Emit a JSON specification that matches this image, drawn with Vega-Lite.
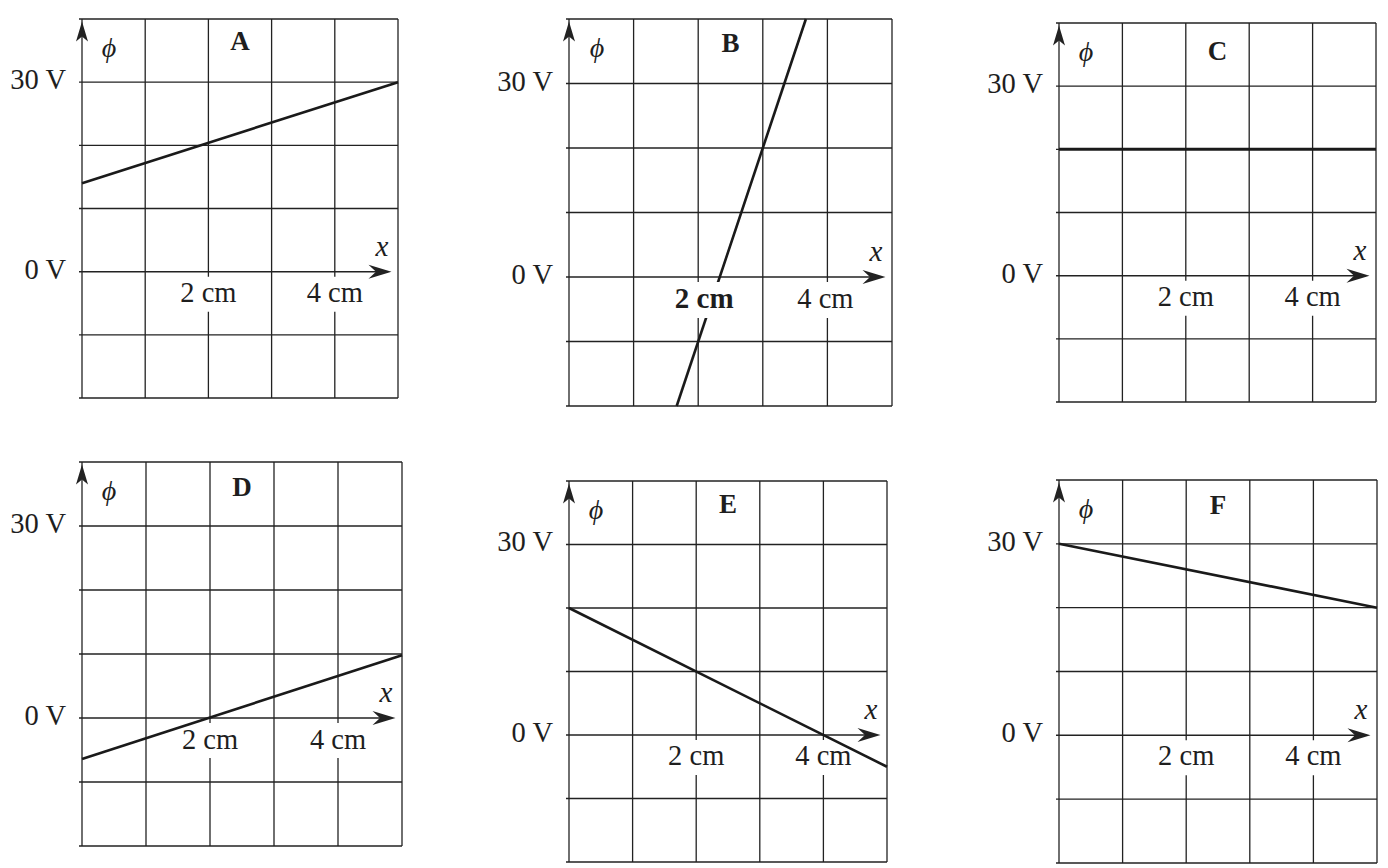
{
"$schema":"https://vega.github.io/schema/vega-lite/v6.json",
"background":"white",
"padding":{"left":9,"top":13,"right":0,"bottom":0},
"config":{"view":{"stroke":null},"axis":{"disable":true},"text":{"font":"Liberation Serif","fill":"#1e1e1e"}},
"datasets":{
"lines":[{"panel":"A","x":0,"phi":14},{"panel":"A","x":5,"phi":30},{"panel":"B","x":1.667,"phi":-20},{"panel":"B","x":3.667,"phi":40},{"panel":"C","x":0,"phi":20},{"panel":"C","x":5,"phi":20},{"panel":"D","x":0,"phi":-6.4},{"panel":"D","x":5,"phi":9.8},{"panel":"E","x":0,"phi":20},{"panel":"E","x":5,"phi":-5},{"panel":"F","x":0,"phi":30},{"panel":"F","x":5,"phi":20}],
"vgrid":[{"x":0},{"x":1},{"x":2},{"x":3},{"x":4},{"x":5}],
"hgrid":[{"y":-20},{"y":-10},{"y":10},{"y":20},{"y":30},{"y":40}],
"ylabels":[{"y":30,"label":"30 V"},{"y":0,"label":"0 V"}],
"xlabels":[{"x":2,"label":"2 cm"},{"x":4,"label":"4 cm"}]
},
"columns":3,"align":"each","bounds":"flush","spacing":{"row":56,"column":167},
"concat":[
{"width":316,"height":379,"layer":[
{"data":{"name":"vgrid"},"mark":{"type":"rule","stroke":"#222","strokeWidth":1.3},"encoding":{"x":{"field":"x","type":"quantitative","scale":{"domain":[0,5],"nice":false,"zero":false},"axis":null},"y":{"datum":-20},"y2":{"datum":40}}},
{"data":{"name":"hgrid"},"mark":{"type":"rule","stroke":"#222","strokeWidth":1.3,"xOffset":-3},"encoding":{"x":{"datum":0},"x2":{"datum":5},"y":{"field":"y","type":"quantitative","scale":{"domain":[-20,40],"nice":false,"zero":false},"axis":null}}},
{"data":{"values":[{}]},"mark":{"type":"rule","stroke":"#222","strokeWidth":1.5,"xOffset":-3,"x2Offset":-10},"encoding":{"x":{"datum":0},"x2":{"datum":5},"y":{"datum":0}}},
{"data":{"values":[{}]},"mark":{"type":"point","shape":"M0,0L-2.3,-0.7L-1.55,0L-2.3,0.7Z","size":400,"filled":true,"fill":"#222","strokeWidth":0,"opacity":1,"xOffset":-6.5},"encoding":{"x":{"datum":5},"y":{"datum":0}}},
{"data":{"values":[{}]},"mark":{"type":"point","shape":"M0,0L0.6,2.0L0,1.5L-0.6,2.0Z","size":400,"filled":true,"fill":"#222","strokeWidth":0,"opacity":1,"yOffset":2.5},"encoding":{"x":{"datum":0},"y":{"datum":40}}},
{"data":{"name":"lines"},"transform":[{"filter":"datum.panel==='A'"}],"mark":{"type":"line","stroke":"#1a1a1a","strokeWidth":2.6},"encoding":{"x":{"field":"x","type":"quantitative","scale":{"domain":[0,5],"nice":false,"zero":false},"axis":null},"y":{"field":"phi","type":"quantitative","scale":{"domain":[-20,40],"nice":false,"zero":false},"axis":null}}},
{"data":{"name":"xlabels"},"mark":{"type":"rect","fill":"white","xOffset":-31,"x2Offset":31,"yOffset":5,"y2Offset":40},"encoding":{"x":{"field":"x","type":"quantitative","scale":{"domain":[0,5],"nice":false,"zero":false},"axis":null},"x2":{"field":"x"},"y":{"datum":0},"y2":{"datum":0}}},
{"data":{"name":"xlabels"},"mark":{"type":"text","fontSize":28.5,"align":"center","baseline":"alphabetic","dy":30},"encoding":{"x":{"field":"x","type":"quantitative","scale":{"domain":[0,5],"nice":false,"zero":false},"axis":null},"y":{"datum":0},"text":{"field":"label"}}},
{"data":{"name":"ylabels"},"mark":{"type":"text","fontSize":28.5,"align":"right","baseline":"alphabetic","dx":-16,"dy":7},"encoding":{"x":{"datum":0},"y":{"field":"y","type":"quantitative","scale":{"domain":[-20,40],"nice":false,"zero":false},"axis":null},"text":{"field":"label"}}},
{"data":{"values":[{}]},"mark":{"type":"text","text":"ϕ","fontSize":28,"fontStyle":"italic","align":"center","baseline":"alphabetic","dx":27,"dy":38},"encoding":{"x":{"datum":0},"y":{"datum":40}}},
{"data":{"values":[{}]},"mark":{"type":"text","text":"A","fontSize":27,"fontWeight":"bold","align":"center","baseline":"alphabetic","dy":31},"encoding":{"x":{"datum":2.5},"y":{"datum":40}}},
{"data":{"values":[{}]},"mark":{"type":"text","text":"x","fontSize":29,"fontStyle":"italic","align":"center","baseline":"alphabetic","dx":-16,"dy":-16},"encoding":{"x":{"datum":5},"y":{"datum":0}}}
]},
{"width":323,"height":387,"layer":[
{"data":{"name":"vgrid"},"mark":{"type":"rule","stroke":"#222","strokeWidth":1.3},"encoding":{"x":{"field":"x","type":"quantitative","scale":{"domain":[0,5],"nice":false,"zero":false},"axis":null},"y":{"datum":-20},"y2":{"datum":40}}},
{"data":{"name":"hgrid"},"mark":{"type":"rule","stroke":"#222","strokeWidth":1.3,"xOffset":-3},"encoding":{"x":{"datum":0},"x2":{"datum":5},"y":{"field":"y","type":"quantitative","scale":{"domain":[-20,40],"nice":false,"zero":false},"axis":null}}},
{"data":{"values":[{}]},"mark":{"type":"rule","stroke":"#222","strokeWidth":1.5,"xOffset":-3,"x2Offset":-10},"encoding":{"x":{"datum":0},"x2":{"datum":5},"y":{"datum":0}}},
{"data":{"values":[{}]},"mark":{"type":"point","shape":"M0,0L-2.3,-0.7L-1.55,0L-2.3,0.7Z","size":400,"filled":true,"fill":"#222","strokeWidth":0,"opacity":1,"xOffset":-6.5},"encoding":{"x":{"datum":5},"y":{"datum":0}}},
{"data":{"values":[{}]},"mark":{"type":"point","shape":"M0,0L0.6,2.0L0,1.5L-0.6,2.0Z","size":400,"filled":true,"fill":"#222","strokeWidth":0,"opacity":1,"yOffset":2.5},"encoding":{"x":{"datum":0},"y":{"datum":40}}},
{"data":{"name":"lines"},"transform":[{"filter":"datum.panel==='B'"}],"mark":{"type":"line","stroke":"#1a1a1a","strokeWidth":2.6},"encoding":{"x":{"field":"x","type":"quantitative","scale":{"domain":[0,5],"nice":false,"zero":false},"axis":null},"y":{"field":"phi","type":"quantitative","scale":{"domain":[-20,40],"nice":false,"zero":false},"axis":null}}},
{"data":{"name":"xlabels"},"mark":{"type":"rect","fill":"white","xOffset":-31,"x2Offset":31,"yOffset":5,"y2Offset":41},"encoding":{"x":{"field":"x","type":"quantitative","scale":{"domain":[0,5],"nice":false,"zero":false},"axis":null},"x2":{"field":"x"},"y":{"datum":0},"y2":{"datum":0}}},
{"data":{"name":"xlabels"},"transform":[{"filter":"datum.x===4"}],"mark":{"type":"text","fontSize":28.5,"align":"center","baseline":"alphabetic","dx":-2,"dy":31},"encoding":{"x":{"field":"x","type":"quantitative","scale":{"domain":[0,5],"nice":false,"zero":false},"axis":null},"y":{"datum":0},"text":{"field":"label"}}},
{"data":{"name":"xlabels"},"transform":[{"filter":"datum.x===2"}],"mark":{"type":"text","fontSize":29,"fontWeight":"bold","align":"center","baseline":"alphabetic","dx":6,"dy":31},"encoding":{"x":{"field":"x","type":"quantitative","scale":{"domain":[0,5],"nice":false,"zero":false},"axis":null},"y":{"datum":0},"text":{"field":"label"}}},
{"data":{"name":"ylabels"},"mark":{"type":"text","fontSize":28.5,"align":"right","baseline":"alphabetic","dx":-16,"dy":7},"encoding":{"x":{"datum":0},"y":{"field":"y","type":"quantitative","scale":{"domain":[-20,40],"nice":false,"zero":false},"axis":null},"text":{"field":"label"}}},
{"data":{"values":[{}]},"mark":{"type":"text","text":"ϕ","fontSize":28,"fontStyle":"italic","align":"center","baseline":"alphabetic","dx":28,"dy":38},"encoding":{"x":{"datum":0},"y":{"datum":40}}},
{"data":{"values":[{}]},"mark":{"type":"text","text":"B","fontSize":27,"fontWeight":"bold","align":"center","baseline":"alphabetic","dy":33},"encoding":{"x":{"datum":2.5},"y":{"datum":40}}},
{"data":{"values":[{}]},"mark":{"type":"text","text":"x","fontSize":29,"fontStyle":"italic","align":"center","baseline":"alphabetic","dx":-16,"dy":-16},"encoding":{"x":{"datum":5},"y":{"datum":0}}}
]},
{"width":317,"height":383,"layer":[
{"data":{"name":"vgrid"},"mark":{"type":"rule","stroke":"#222","strokeWidth":1.3},"encoding":{"x":{"field":"x","type":"quantitative","scale":{"domain":[0,5],"nice":false,"zero":false},"axis":null},"y":{"datum":-20},"y2":{"datum":40}}},
{"data":{"name":"hgrid"},"mark":{"type":"rule","stroke":"#222","strokeWidth":1.3,"xOffset":-3},"encoding":{"x":{"datum":0},"x2":{"datum":5},"y":{"field":"y","type":"quantitative","scale":{"domain":[-20,40.63],"nice":false,"zero":false},"axis":null}}},
{"data":{"values":[{}]},"mark":{"type":"rule","stroke":"#222","strokeWidth":1.5,"xOffset":-3,"x2Offset":-10},"encoding":{"x":{"datum":0},"x2":{"datum":5},"y":{"datum":0}}},
{"data":{"values":[{}]},"mark":{"type":"point","shape":"M0,0L-2.3,-0.7L-1.55,0L-2.3,0.7Z","size":400,"filled":true,"fill":"#222","strokeWidth":0,"opacity":1,"xOffset":-6.5},"encoding":{"x":{"datum":5},"y":{"datum":0}}},
{"data":{"values":[{}]},"mark":{"type":"point","shape":"M0,0L0.6,2.0L0,1.5L-0.6,2.0Z","size":400,"filled":true,"fill":"#222","strokeWidth":0,"opacity":1,"yOffset":2.5},"encoding":{"x":{"datum":0},"y":{"datum":40}}},
{"data":{"name":"lines"},"transform":[{"filter":"datum.panel==='C'"}],"mark":{"type":"line","stroke":"#1a1a1a","strokeWidth":3},"encoding":{"x":{"field":"x","type":"quantitative","scale":{"domain":[0,5],"nice":false,"zero":false},"axis":null},"y":{"field":"phi","type":"quantitative","scale":{"domain":[-20,40.63],"nice":false,"zero":false},"axis":null}}},
{"data":{"name":"xlabels"},"mark":{"type":"rect","fill":"white","xOffset":-31,"x2Offset":31,"yOffset":5,"y2Offset":40},"encoding":{"x":{"field":"x","type":"quantitative","scale":{"domain":[0,5],"nice":false,"zero":false},"axis":null},"x2":{"field":"x"},"y":{"datum":0},"y2":{"datum":0}}},
{"data":{"name":"xlabels"},"mark":{"type":"text","fontSize":28.5,"align":"center","baseline":"alphabetic","dy":30},"encoding":{"x":{"field":"x","type":"quantitative","scale":{"domain":[0,5],"nice":false,"zero":false},"axis":null},"y":{"datum":0},"text":{"field":"label"}}},
{"data":{"name":"ylabels"},"mark":{"type":"text","fontSize":28.5,"align":"right","baseline":"alphabetic","dx":-16,"dy":7},"encoding":{"x":{"datum":0},"y":{"field":"y","type":"quantitative","scale":{"domain":[-20,40.63],"nice":false,"zero":false},"axis":null},"text":{"field":"label"}}},
{"data":{"values":[{}]},"mark":{"type":"text","text":"ϕ","fontSize":28,"fontStyle":"italic","align":"center","baseline":"alphabetic","dx":27,"dy":38},"encoding":{"x":{"datum":0},"y":{"datum":40}}},
{"data":{"values":[{}]},"mark":{"type":"text","text":"C","fontSize":27,"fontWeight":"bold","align":"center","baseline":"alphabetic","dy":37},"encoding":{"x":{"datum":2.5},"y":{"datum":40}}},
{"data":{"values":[{}]},"mark":{"type":"text","text":"x","fontSize":29,"fontStyle":"italic","align":"center","baseline":"alphabetic","dx":-16,"dy":-16},"encoding":{"x":{"datum":5},"y":{"datum":0}}}
]},
{"width":320,"height":384,"layer":[
{"data":{"name":"vgrid"},"mark":{"type":"rule","stroke":"#222","strokeWidth":1.3},"encoding":{"x":{"field":"x","type":"quantitative","scale":{"domain":[0,5],"nice":false,"zero":false},"axis":null},"y":{"datum":-20},"y2":{"datum":40}}},
{"data":{"name":"hgrid"},"mark":{"type":"rule","stroke":"#222","strokeWidth":1.3,"xOffset":-3},"encoding":{"x":{"datum":0},"x2":{"datum":5},"y":{"field":"y","type":"quantitative","scale":{"domain":[-20,40],"nice":false,"zero":false},"axis":null}}},
{"data":{"values":[{}]},"mark":{"type":"rule","stroke":"#222","strokeWidth":1.5,"xOffset":-3,"x2Offset":-10},"encoding":{"x":{"datum":0},"x2":{"datum":5},"y":{"datum":0}}},
{"data":{"values":[{}]},"mark":{"type":"point","shape":"M0,0L-2.3,-0.7L-1.55,0L-2.3,0.7Z","size":400,"filled":true,"fill":"#222","strokeWidth":0,"opacity":1,"xOffset":-6.5},"encoding":{"x":{"datum":5},"y":{"datum":0}}},
{"data":{"values":[{}]},"mark":{"type":"point","shape":"M0,0L0.6,2.0L0,1.5L-0.6,2.0Z","size":400,"filled":true,"fill":"#222","strokeWidth":0,"opacity":1,"yOffset":2.5},"encoding":{"x":{"datum":0},"y":{"datum":40}}},
{"data":{"name":"xlabels"},"mark":{"type":"rect","fill":"white","xOffset":-31,"x2Offset":31,"yOffset":5,"y2Offset":40},"encoding":{"x":{"field":"x","type":"quantitative","scale":{"domain":[0,5],"nice":false,"zero":false},"axis":null},"x2":{"field":"x"},"y":{"datum":0},"y2":{"datum":0}}},
{"data":{"name":"lines"},"transform":[{"filter":"datum.panel==='D'"}],"mark":{"type":"line","stroke":"#1a1a1a","strokeWidth":2.6},"encoding":{"x":{"field":"x","type":"quantitative","scale":{"domain":[0,5],"nice":false,"zero":false},"axis":null},"y":{"field":"phi","type":"quantitative","scale":{"domain":[-20,40],"nice":false,"zero":false},"axis":null}}},
{"data":{"name":"xlabels"},"mark":{"type":"text","fontSize":28.5,"align":"center","baseline":"alphabetic","dy":31},"encoding":{"x":{"field":"x","type":"quantitative","scale":{"domain":[0,5],"nice":false,"zero":false},"axis":null},"y":{"datum":0},"text":{"field":"label"}}},
{"data":{"name":"ylabels"},"mark":{"type":"text","fontSize":28.5,"align":"right","baseline":"alphabetic","dx":-16,"dy":7},"encoding":{"x":{"datum":0},"y":{"field":"y","type":"quantitative","scale":{"domain":[-20,40],"nice":false,"zero":false},"axis":null},"text":{"field":"label"}}},
{"data":{"values":[{}]},"mark":{"type":"text","text":"ϕ","fontSize":28,"fontStyle":"italic","align":"center","baseline":"alphabetic","dx":27,"dy":38},"encoding":{"x":{"datum":0},"y":{"datum":40}}},
{"data":{"values":[{}]},"mark":{"type":"text","text":"D","fontSize":27,"fontWeight":"bold","align":"center","baseline":"alphabetic","dy":34},"encoding":{"x":{"datum":2.5},"y":{"datum":40}}},
{"data":{"values":[{}]},"mark":{"type":"text","text":"x","fontSize":29,"fontStyle":"italic","align":"center","baseline":"alphabetic","dx":-16,"dy":-16},"encoding":{"x":{"datum":5},"y":{"datum":0}}}
]},
{"width":318,"height":400,"layer":[
{"data":{"name":"vgrid"},"mark":{"type":"rule","stroke":"#222","strokeWidth":1.3},"encoding":{"x":{"field":"x","type":"quantitative","scale":{"domain":[0,5],"nice":false,"zero":false},"axis":null},"y":{"datum":-20},"y2":{"datum":40}}},
{"data":{"name":"hgrid"},"mark":{"type":"rule","stroke":"#222","strokeWidth":1.3,"xOffset":-3},"encoding":{"x":{"datum":0},"x2":{"datum":5},"y":{"field":"y","type":"quantitative","scale":{"domain":[-20,42.99],"nice":false,"zero":false},"axis":null}}},
{"data":{"values":[{}]},"mark":{"type":"rule","stroke":"#222","strokeWidth":1.5,"xOffset":-3,"x2Offset":-10},"encoding":{"x":{"datum":0},"x2":{"datum":5},"y":{"datum":0}}},
{"data":{"values":[{}]},"mark":{"type":"point","shape":"M0,0L-2.3,-0.7L-1.55,0L-2.3,0.7Z","size":400,"filled":true,"fill":"#222","strokeWidth":0,"opacity":1,"xOffset":-6.5},"encoding":{"x":{"datum":5},"y":{"datum":0}}},
{"data":{"values":[{}]},"mark":{"type":"point","shape":"M0,0L0.6,2.0L0,1.5L-0.6,2.0Z","size":400,"filled":true,"fill":"#222","strokeWidth":0,"opacity":1,"yOffset":2.5},"encoding":{"x":{"datum":0},"y":{"datum":40}}},
{"data":{"name":"xlabels"},"mark":{"type":"rect","fill":"white","xOffset":-31,"x2Offset":31,"yOffset":5,"y2Offset":40},"encoding":{"x":{"field":"x","type":"quantitative","scale":{"domain":[0,5],"nice":false,"zero":false},"axis":null},"x2":{"field":"x"},"y":{"datum":0},"y2":{"datum":0}}},
{"data":{"name":"lines"},"transform":[{"filter":"datum.panel==='E'"}],"mark":{"type":"line","stroke":"#1a1a1a","strokeWidth":2.6},"encoding":{"x":{"field":"x","type":"quantitative","scale":{"domain":[0,5],"nice":false,"zero":false},"axis":null},"y":{"field":"phi","type":"quantitative","scale":{"domain":[-20,42.99],"nice":false,"zero":false},"axis":null}}},
{"data":{"name":"xlabels"},"mark":{"type":"text","fontSize":28.5,"align":"center","baseline":"alphabetic","dy":30},"encoding":{"x":{"field":"x","type":"quantitative","scale":{"domain":[0,5],"nice":false,"zero":false},"axis":null},"y":{"datum":0},"text":{"field":"label"}}},
{"data":{"name":"ylabels"},"mark":{"type":"text","fontSize":28.5,"align":"right","baseline":"alphabetic","dx":-16,"dy":7},"encoding":{"x":{"datum":0},"y":{"field":"y","type":"quantitative","scale":{"domain":[-20,42.99],"nice":false,"zero":false},"axis":null},"text":{"field":"label"}}},
{"data":{"values":[{}]},"mark":{"type":"text","text":"ϕ","fontSize":28,"fontStyle":"italic","align":"center","baseline":"alphabetic","dx":27,"dy":38},"encoding":{"x":{"datum":0},"y":{"datum":40}}},
{"data":{"values":[{}]},"mark":{"type":"text","text":"E","fontSize":27,"fontWeight":"bold","align":"center","baseline":"alphabetic","dy":32},"encoding":{"x":{"datum":2.5},"y":{"datum":40}}},
{"data":{"values":[{}]},"mark":{"type":"text","text":"x","fontSize":29,"fontStyle":"italic","align":"center","baseline":"alphabetic","dx":-16,"dy":-16},"encoding":{"x":{"datum":5},"y":{"datum":0}}}
]},
{"width":318,"height":401,"layer":[
{"data":{"name":"vgrid"},"mark":{"type":"rule","stroke":"#222","strokeWidth":1.3},"encoding":{"x":{"field":"x","type":"quantitative","scale":{"domain":[0,5],"nice":false,"zero":false},"axis":null},"y":{"datum":-20},"y2":{"datum":40}}},
{"data":{"name":"hgrid"},"mark":{"type":"rule","stroke":"#222","strokeWidth":1.3,"xOffset":-3},"encoding":{"x":{"datum":0},"x2":{"datum":5},"y":{"field":"y","type":"quantitative","scale":{"domain":[-20,42.82],"nice":false,"zero":false},"axis":null}}},
{"data":{"values":[{}]},"mark":{"type":"rule","stroke":"#222","strokeWidth":1.5,"xOffset":-3,"x2Offset":-10},"encoding":{"x":{"datum":0},"x2":{"datum":5},"y":{"datum":0}}},
{"data":{"values":[{}]},"mark":{"type":"point","shape":"M0,0L-2.3,-0.7L-1.55,0L-2.3,0.7Z","size":400,"filled":true,"fill":"#222","strokeWidth":0,"opacity":1,"xOffset":-6.5},"encoding":{"x":{"datum":5},"y":{"datum":0}}},
{"data":{"values":[{}]},"mark":{"type":"point","shape":"M0,0L0.6,2.0L0,1.5L-0.6,2.0Z","size":400,"filled":true,"fill":"#222","strokeWidth":0,"opacity":1,"yOffset":2.5},"encoding":{"x":{"datum":0},"y":{"datum":40}}},
{"data":{"name":"lines"},"transform":[{"filter":"datum.panel==='F'"}],"mark":{"type":"line","stroke":"#1a1a1a","strokeWidth":2.6},"encoding":{"x":{"field":"x","type":"quantitative","scale":{"domain":[0,5],"nice":false,"zero":false},"axis":null},"y":{"field":"phi","type":"quantitative","scale":{"domain":[-20,42.82],"nice":false,"zero":false},"axis":null}}},
{"data":{"name":"xlabels"},"mark":{"type":"rect","fill":"white","xOffset":-31,"x2Offset":31,"yOffset":5,"y2Offset":40},"encoding":{"x":{"field":"x","type":"quantitative","scale":{"domain":[0,5],"nice":false,"zero":false},"axis":null},"x2":{"field":"x"},"y":{"datum":0},"y2":{"datum":0}}},
{"data":{"name":"xlabels"},"mark":{"type":"text","fontSize":28.5,"align":"center","baseline":"alphabetic","dy":30},"encoding":{"x":{"field":"x","type":"quantitative","scale":{"domain":[0,5],"nice":false,"zero":false},"axis":null},"y":{"datum":0},"text":{"field":"label"}}},
{"data":{"name":"ylabels"},"mark":{"type":"text","fontSize":28.5,"align":"right","baseline":"alphabetic","dx":-16,"dy":7},"encoding":{"x":{"datum":0},"y":{"field":"y","type":"quantitative","scale":{"domain":[-20,42.82],"nice":false,"zero":false},"axis":null},"text":{"field":"label"}}},
{"data":{"values":[{}]},"mark":{"type":"text","text":"ϕ","fontSize":28,"fontStyle":"italic","align":"center","baseline":"alphabetic","dx":27,"dy":38},"encoding":{"x":{"datum":0},"y":{"datum":40}}},
{"data":{"values":[{}]},"mark":{"type":"text","text":"F","fontSize":27,"fontWeight":"bold","align":"center","baseline":"alphabetic","dy":34},"encoding":{"x":{"datum":2.5},"y":{"datum":40}}},
{"data":{"values":[{}]},"mark":{"type":"text","text":"x","fontSize":29,"fontStyle":"italic","align":"center","baseline":"alphabetic","dx":-16,"dy":-16},"encoding":{"x":{"datum":5},"y":{"datum":0}}}
]}
]
}
